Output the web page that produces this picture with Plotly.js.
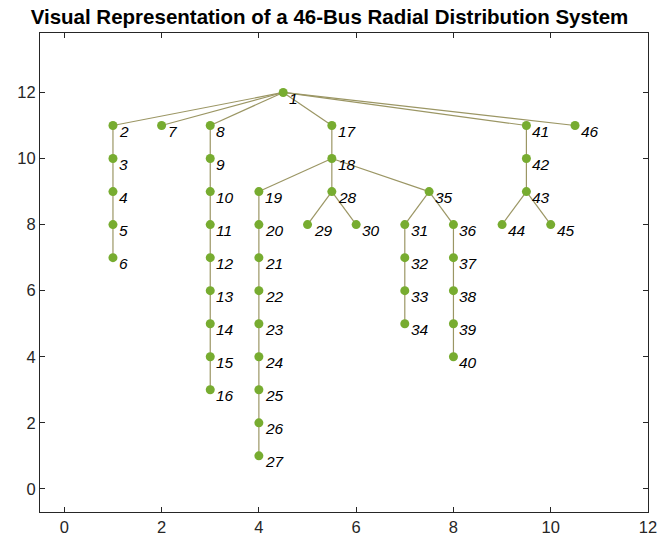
<!DOCTYPE html>
<html>
<head>
<meta charset="utf-8">
<script src="https://cdn.plot.ly/plotly-3.0.1.min.js"></script>
<style>html,body{margin:0;padding:0;background:#fff;}#chart{width:659px;height:546px;}</style>
</head>
<body>
<div id="chart"></div>
<script>
// Bus numbers and coordinates
const busIds = [1,2,3,4,5,6,7,8,9,10,11,12,13,14,15,16,17,18,19,20,21,22,23,24,25,26,27,28,29,30,31,32,33,34,35,36,37,38,39,40,41,42,43,44,45,46];
const busX = [4.5,1,1,1,1,1,2,3,3,3,3,3,3,3,3,3,5.5,5.5,4,4,4,4,4,4,4,4,4,5.5,5,6,7,7,7,7,7.5,8,8,8,8,8,9.5,9.5,9.5,9,10,10.5];
const busY = [12,11,10,9,8,7,11,11,10,9,8,7,6,5,4,3,11,10,9,8,7,6,5,4,3,2,1,9,8,8,8,7,6,5,9,8,7,6,5,4,11,10,9,8,8,11];
// Branches (from bus, to bus)
const edgeFrom = [1,2,3,4,5,1,1,8,9,10,11,12,13,14,15,1,17,18,19,20,21,22,23,24,25,26,18,28,28,18,35,31,32,33,35,36,37,38,39,1,41,42,43,43,1];
const edgeTo   = [2,3,4,5,6,7,8,9,10,11,12,13,14,15,16,17,18,19,20,21,22,23,24,25,26,27,28,29,30,35,31,32,33,34,36,37,38,39,40,41,42,43,44,45,46];
const xTicks = [0,2,4,6,8,10,12];
const yTicks = [0,2,4,6,8,10,12];

const ex = [], ey = [];
for (let i = 0; i < edgeFrom.length; i++) {
  const a = busIds.indexOf(edgeFrom[i]), b = busIds.indexOf(edgeTo[i]);
  ex.push(busX[a], busX[b], null);
  ey.push(busY[a], busY[b], null);
}

const traces = [
  {x: ex, y: ey, mode: 'lines', type: 'scatter', hoverinfo: 'skip',
   line: {color: 'rgb(155,150,100)', width: 1.2}},
  {x: busX, y: busY, mode: 'markers', type: 'scatter',
   marker: {color: '#77ac30', size: 9}}
];

const annotations = busIds.map((id, i) => ({
  x: busX[i], y: busY[i], xref: 'x', yref: 'y', text: '<i>' + id + '</i>',
  showarrow: false, xanchor: 'left', yanchor: 'middle', xshift: 4, yshift: -6,
  font: {family: 'Liberation Sans, Arial, sans-serif', size: 15.5, color: '#000'}
}));

const axisCommon = {
  showgrid: false, zeroline: false, showline: true, mirror: 'ticks',
  linecolor: '#262626', linewidth: 1, ticks: 'inside', ticklen: 5, tickcolor: '#262626',
  tickfont: {family: 'Liberation Sans, Arial, sans-serif', size: 16.5, color: '#262626'}
};

const layout = {
  width: 659, height: 546,
  margin: {l: 40, r: 11, t: 33, b: 34},
  paper_bgcolor: '#fff', plot_bgcolor: '#fff',
  showlegend: false,
  title: {text: '<b>Visual Representation of a 46-Bus Radial Distribution System</b>',
          x: 0.5, xanchor: 'center', y: 0.97, yanchor: 'middle',
          font: {family: 'Liberation Sans, Arial, sans-serif', size: 20.5, color: '#000'}},
  xaxis: Object.assign({}, axisCommon, {range: [-0.5, 12], tickvals: xTicks}),
  yaxis: Object.assign({}, axisCommon, {range: [-0.7, 13.8], tickvals: yTicks}),
  annotations: annotations
};

Plotly.newPlot('chart', traces, layout, {displayModeBar: false, staticPlot: true});
</script>
</body>
</html>
